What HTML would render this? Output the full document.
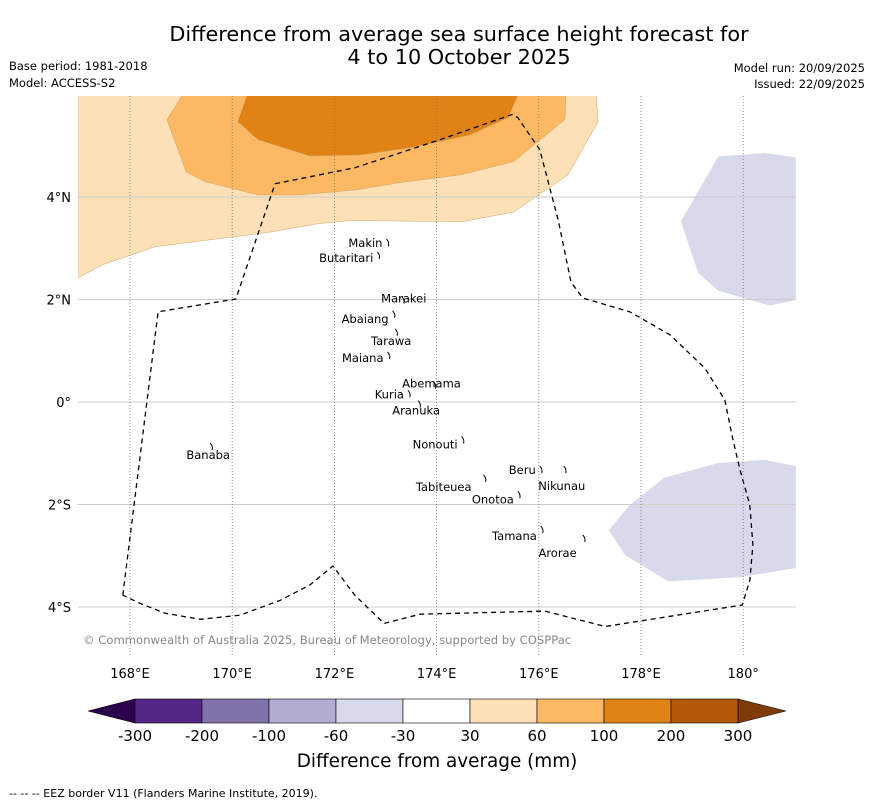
<!DOCTYPE html>
<html><head><meta charset="utf-8">
<style>
body{margin:0;background:#fff;font-family:"Liberation Sans","DejaVu Sans",sans-serif;}
svg text{font-family:"DejaVu Sans","Liberation Sans",sans-serif;}
</style></head>
<body>
<svg id="chart" width="873" height="804" viewBox="0 0 873 804">
<text x="459" y="41" font-size="20.8" text-anchor="middle">Difference from average sea surface height forecast for</text>
<text x="459" y="64" font-size="20.8" text-anchor="middle">4 to 10 October 2025</text>
<text x="9" y="70" font-size="11.5">Base period: 1981-2018</text>
<text x="9" y="87" font-size="11.5">Model: ACCESS-S2</text>
<text x="865" y="72" font-size="11.5" text-anchor="end">Model run: 20/09/2025</text>
<text x="865" y="88" font-size="11.5" text-anchor="end">Issued: 22/09/2025</text>
<defs><clipPath id="mapclip"><rect x="78" y="96" width="718" height="559"/></clipPath></defs>
<g id="map" clip-path="url(#mapclip)"></g>
<g id="overlay"></g>
<text x="83" y="644" font-size="11.6" fill="#888">© Commonwealth of Australia 2025, Bureau of Meteorology, supported by COSPPac</text>
<g id="cbar"></g>
<text x="437" y="767" font-size="18.4" text-anchor="middle">Difference from average (mm)</text>
<text x="9" y="797" font-size="11">--  --  -- EEZ border V11 (Flanders Marine Institute, 2019).</text>
</svg>
<script>
const lonTicks=[168,170,172,174,176,178,180];
const lonLabels=["168°E","170°E","172°E","174°E","176°E","178°E","180°"];
const latTicks=[4,2,0,-2,-4];
const latLabels=["4°N","2°N","0°","2°S","4°S"];
const cbLevels=["-300","-200","-100","-60","-30","30","60","100","200","300"];
const cbColors=["#542788","#8073ac","#b2abd2","#d8daeb","#ffffff","#fee0b6","#fdb863","#e08214","#b35806"];
const cbLow="#2d004b", cbHigh="#7f3b08";
const band30=[[166.98,5.98],[177.12,5.98],[177.16,5.47],[176.57,4.43],[175.51,3.71],[174.52,3.52],[172.31,3.54],[171.68,3.48],[170.78,3.32],[170.0,3.22],[168.49,3.03],[167.47,2.68],[166.98,2.42]];
const band60=[[169.02,5.98],[176.53,5.98],[176.51,5.51],[175.51,4.69],[174.46,4.43],[173.28,4.28],[172.44,4.14],[171.33,4.04],[170.5,4.04],[169.47,4.30],[169.1,4.49],[168.72,5.51]];
const band100=[[170.29,5.98],[175.59,5.98],[175.40,5.55],[174.65,5.21],[173.48,4.96],[172.5,4.82],[171.52,4.80],[170.5,5.12],[170.11,5.47]];
const bandNegA=[[179.51,4.79],[180.43,4.86],[181.03,4.77],[181.03,1.99],[180.52,1.88],[179.51,2.17],[179.12,2.52],[178.78,3.52]];
const bandNegB=[[177.37,-2.5],[177.78,-2.01],[178.45,-1.48],[179.51,-1.19],[180.43,-1.13],[181.03,-1.25],[181.03,-3.24],[179.94,-3.42],[178.53,-3.5],[177.69,-2.99]];
const eez=[[167.86,-3.77],[168.55,1.76],[170.07,2.01],[170.84,4.26],[172.40,4.57],[174.07,5.12],[175.48,5.61],[175.59,5.55],[176.02,4.92],[176.38,3.55],[176.63,2.34],[176.86,2.03],[177.78,1.76],[178.57,1.31],[179.25,0.66],[179.64,0.04],[179.80,-0.74],[179.94,-1.33],[180.13,-2.01],[180.19,-2.79],[180.13,-3.48],[179.98,-3.96],[177.30,-4.38],[176.12,-4.08],[173.68,-4.14],[172.97,-4.32],[172.40,-3.77],[171.97,-3.20],[171.52,-3.57],[170.94,-3.87],[170.15,-4.16],[169.37,-4.24],[168.68,-4.12],[168.20,-3.93],[167.86,-3.77]];
const islandNames=["Makin","Butaritari","Marakei","Abaiang","Tarawa","Maiana","Abemama","Kuria","Aranuka","Nonouti","Banaba","Beru","Nikunau","Tabiteuea","Onotoa","Tamana","Arorae"];
const islandLon=[172.98,172.8,173.28,173.1,173.15,173.0,173.9,173.4,173.6,174.45,169.53,175.98,176.45,174.88,175.55,176.0,176.82];
const islandLat=[3.1,2.85,1.98,1.7,1.35,0.9,0.32,0.15,-0.05,-0.75,-0.88,-1.33,-1.33,-1.5,-1.82,-2.5,-2.67];
const labelDx=[-2,-2,4,-2,-2,-2,0,-2,0,-2,0,-2,0,-10,-2,-2,-4];
const labelDy=[4,6,2,8,12,6,2,4,10,8,12,4,20,12,8,10,18];
const labelAnchor=["end","end","middle","end","middle","end","middle","end","middle","end","middle","end","middle","end","end","end","end"];

const NS="http://www.w3.org/2000/svg";
const X=lon=>130+(lon-168)*51.1;
const Y=lat=>402-lat*51.25;
function mk(tag,attrs,parent){const e=document.createElementNS(NS,tag);for(const k in attrs)e.setAttribute(k,attrs[k]);parent.appendChild(e);return e;}
const map=document.getElementById('map'), ov=document.getElementById('overlay'), cb=document.getElementById('cbar');
const pts=a=>a.map(p=>X(p[0]).toFixed(1)+","+Y(p[1]).toFixed(1)).join(" ");
[[band30,"#fee0b6","band-30-60"],[band60,"#fdb863","band-60-100"],[band100,"#e08214","band-100-200"],[bandNegA,"#d8daeb","band-neg-north"],[bandNegB,"#d8daeb","band-neg-south"]].forEach(b=>{
 const p=mk('polygon',{points:pts(b[0]),fill:b[1],stroke:"#c9a36a","stroke-width":b[1]=="#d8daeb"?0:0.5},map);
 
 
});
latTicks.forEach((t,i)=>{
 const l=mk('line',{x1:78,x2:796,y1:Y(t),y2:Y(t),stroke:"#ccc","stroke-width":1},map);
 
 
 const tx=mk('text',{x:71,y:Y(t)+5,"font-size":13,"text-anchor":"end"},ov);tx.textContent=latLabels[i];
 
 
});
lonTicks.forEach((t,i)=>{
 const l=mk('line',{x1:X(t),x2:X(t),y1:96,y2:655,stroke:"#777","stroke-width":0.8,"stroke-dasharray":"1,2"},map);
 
 
 const tx=mk('text',{x:X(t),y:678,"font-size":13,"text-anchor":"middle"},ov);tx.textContent=lonLabels[i];
 
 
});
const e=mk('polyline',{points:pts(eez),fill:"none",stroke:"#000","stroke-width":1.3,"stroke-dasharray":"5,4"},map);


islandNames.forEach((n,i)=>{
 const x=X(islandLon[i]),y=Y(islandLat[i]);
 const m=mk('path',{d:`M${x+2},${y-4} q3,3 2,7`,stroke:"#000",fill:"none","stroke-width":1},map);
 
 
 const t=mk('text',{x:x+labelDx[i],y:y+labelDy[i],"font-size":11.5,"text-anchor":labelAnchor[i]},map);t.textContent=n;
 
 
});
const cx0=135,cx1=738,cy0=699,cy1=723,w=(cx1-cx0)/cbColors.length;
const tl=mk('polygon',{points:`${cx0},${cy0} ${cx0},${cy1} 88,${(cy0+cy1)/2}`,fill:cbLow,stroke:"#000","stroke-width":0.6},cb);


const th=mk('polygon',{points:`${cx1},${cy0} ${cx1},${cy1} 786,${(cy0+cy1)/2}`,fill:cbHigh,stroke:"#000","stroke-width":0.6},cb);


cbColors.forEach((c,i)=>{
 const r=mk('rect',{x:cx0+i*w,y:cy0,width:w,height:cy1-cy0,fill:c,stroke:"#000","stroke-width":0.6},cb);
 
 
});
cbLevels.forEach((v,i)=>{
 const t=mk('text',{x:cx0+i*w,y:741,"font-size":15,"text-anchor":"middle"},cb);t.textContent=v;
 
 
});
</script>
</body></html>
